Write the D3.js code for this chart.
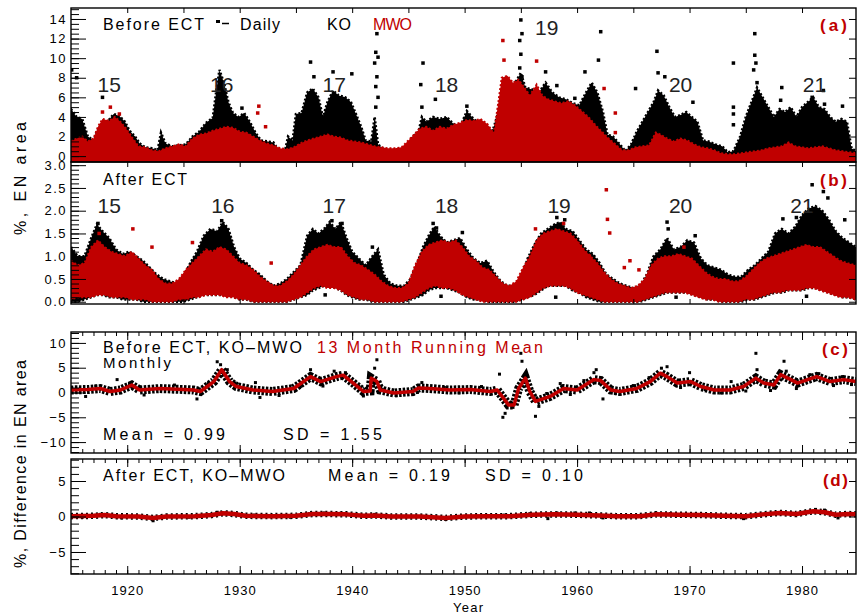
<!DOCTYPE html>
<html>
<head>
<meta charset="utf-8">
<script src="https://cdn.jsdelivr.net/npm/d3@7"></script>
<style>
  body { margin: 0; background: #fff; }
  svg { display: block; }
  text { font-family: "Liberation Sans", Arial, Helvetica, sans-serif; }
</style>
</head>
<body>
<svg id="chart" width="857" height="616"></svg>
<script>
// ---- data ----
// panel (a): daily EN area before ECT, upper envelope [year, value]
const koBefore = [
  [1915.0,4.8],[1915.5,4.0],[1916.0,3.8],[1916.5,2.0],[1917.0,1.6],[1917.3,2.5],[1917.7,3.3],[1918.3,3.6],
  [1918.8,4.3],[1919.3,4.1],[1919.8,3.5],[1920.2,2.6],[1920.7,2.0],[1921.1,1.3],[1921.6,0.9],[1922.2,0.8],
  [1922.7,0.6],[1923.0,2.4],[1923.4,1.3],[1924.0,1.0],[1924.6,1.1],[1925.2,1.2],[1925.8,2.0],[1926.4,2.5],
  [1927.0,3.4],[1927.6,3.9],[1927.9,6.5],[1928.2,8.8],[1928.6,7.5],[1929.0,5.5],[1929.4,4.4],[1929.9,4.0],
  [1930.4,4.4],[1930.9,3.5],[1931.4,2.4],[1931.9,1.6],[1932.5,1.5],[1933.0,1.4],[1933.5,0.5],[1934.0,0.4],
  [1934.3,2.0],[1934.7,1.6],[1935.0,4.3],[1935.5,4.4],[1936.0,6.5],[1936.5,6.9],[1937.0,6.0],[1937.4,4.0],
  [1937.8,5.5],[1938.3,6.7],[1938.8,6.2],[1939.4,6.0],[1939.9,5.5],[1940.3,4.4],[1940.8,3.0],[1941.2,1.6],
  [1941.7,1.5],[1942.0,4.0],[1942.3,1.2],[1942.8,0.7],[1943.5,0.6],[1944.2,0.7],[1944.8,0.8],[1945.4,2.0],
  [1945.9,2.5],[1946.2,4.0],[1946.6,3.5],[1947.2,4.0],[1947.8,3.8],[1948.4,4.0],[1949.0,3.3],[1949.6,3.0],
  [1950.2,4.6],[1950.8,3.8],[1951.4,3.2],[1952.0,3.0],[1952.5,2.6],[1953.0,4.5],[1953.5,5.5],[1954.0,6.5],
  [1954.5,7.5],[1955.0,8.5],[1955.4,7.0],[1956.0,6.8],[1956.6,6.5],[1957.2,7.5],[1957.8,6.5],[1958.4,6.0],
  [1959.0,5.8],[1959.6,5.4],[1960.2,5.2],[1960.8,6.5],[1961.3,7.5],[1961.8,6.5],[1962.3,4.5],[1962.7,2.2],
  [1963.2,2.0],[1963.8,1.2],[1964.3,0.5],[1964.8,1.2],[1965.3,2.5],[1965.8,3.5],[1966.3,4.5],[1966.8,5.5],
  [1967.2,6.7],[1967.7,6.2],[1968.2,5.0],[1968.7,4.0],[1969.2,4.2],[1969.7,4.5],[1970.2,4.0],[1970.7,3.5],
  [1971.2,1.6],[1971.7,1.5],[1972.3,1.2],[1972.9,1.0],[1973.4,0.4],[1973.9,0.5],[1974.5,2.0],[1975.0,4.0],
  [1975.5,5.5],[1976.0,7.0],[1976.5,6.0],[1977.0,5.0],[1977.5,4.0],[1978.0,4.8],[1978.5,4.5],[1979.0,5.0],
  [1979.5,4.0],[1980.0,5.0],[1980.5,5.5],[1981.0,6.0],[1981.5,5.0],[1982.0,4.8],[1982.5,4.0],[1983.0,3.5],
  [1983.5,3.8],[1984.0,3.5],[1984.4,0.8],[1984.8,0.5]
];
// [year, high]
const mwoBefore = [
  [1915.0,1.5],[1915.5,1.8],[1916.0,2.0],[1916.5,1.5],[1917.0,1.8],[1917.4,3.0],[1917.8,3.8],
  [1918.4,3.6],[1918.9,4.0],[1919.4,3.5],[1919.9,2.8],[1920.5,1.8],[1921.0,1.0],[1921.6,0.9],
  [1922.2,0.6],[1922.8,0.5],[1923.4,0.8],[1924.0,1.0],[1924.6,1.2],[1925.2,1.0],[1925.8,1.8],
  [1926.4,2.2],[1927.0,2.3],[1927.6,2.6],[1928.2,2.8],[1928.8,3.0],[1929.4,2.9],[1930.0,2.5],
  [1930.6,2.4],[1931.2,2.0],[1931.8,1.6],[1932.4,1.3],[1933.0,1.1],[1933.6,0.8],[1934.2,0.7],
  [1934.8,0.9],[1935.4,1.3],[1936.0,1.6],[1936.6,1.8],[1937.2,2.0],[1937.8,2.2],[1938.4,2.0],
  [1939.0,1.9],[1939.6,1.6],[1940.2,1.5],[1940.8,1.4],[1941.4,1.2],[1942.0,1.0],[1942.6,0.9],
  [1943.2,0.8],[1943.8,0.8],[1944.4,0.9],[1945.0,1.6],[1945.5,2.2],[1946.0,2.8],[1946.6,3.0],
  [1947.2,2.6],[1947.8,3.0],[1948.4,2.8],[1949.0,3.2],[1949.6,3.4],[1950.2,3.7],[1950.8,3.6],
  [1951.4,3.8],[1952.0,3.3],[1952.6,2.3],[1953.0,5.5],[1953.3,8.0],[1953.8,8.2],[1954.3,7.5],
  [1954.8,7.8],[1955.3,7.0],[1955.8,6.2],[1956.4,7.3],[1956.9,6.2],[1957.4,5.8],
  [1958.0,5.6],[1958.6,5.4],[1959.2,5.6],[1959.8,5.2],[1960.4,4.6],[1961.0,4.0],
  [1961.6,3.2],[1962.2,2.5],[1962.8,1.8],[1963.4,1.2],[1964.0,0.6],[1964.6,0.6],[1965.2,0.9],
  [1965.8,1.0],[1966.4,1.1],[1967.0,2.4],[1967.4,2.2],[1968.0,1.8],[1968.6,1.5],[1969.2,1.8],
  [1969.8,1.6],[1970.4,1.2],[1971.0,0.9],[1971.6,0.8],[1972.2,0.6],[1972.8,0.3],[1973.4,0.2],
  [1974.0,0.2],[1974.6,0.3],[1975.2,0.4],[1975.8,0.5],[1976.4,0.6],[1977.0,0.8],[1977.6,0.9],
  [1978.2,1.0],[1978.8,1.4],[1979.4,1.0],[1980.0,0.9],[1980.6,0.8],[1981.2,0.9],[1981.8,1.0],
  [1982.4,0.8],[1983.0,0.6],[1983.6,0.5],[1984.2,0.4],[1984.8,0.3]
];
const koBeforeDots = [
  [1915.06,8.8],[1915.5,8.0],[1917.8,6.0],[1930.2,4.9],[1936.3,9.6],[1936.6,8.1],[1938.3,8.6],[1939.97,8.4],
  [1942.2,12.5],[1942.1,10.6],[1942.3,10.1],[1942.0,9.5],[1942.2,8.1],[1942.1,7.1],[1942.3,6.0],[1942.1,5.0],
  [1946.3,9.5],[1946.1,7.3],[1946.2,5.0],[1947.4,5.8],[1950.2,5.1],
  [1955.0,13.9],[1955.1,12.5],[1954.9,11.8],[1955.0,10.4],[1954.9,9.0],[1955.1,8.1],
  [1957.2,8.6],[1958.2,7.2],[1959.8,5.9],[1960.7,8.6],[1961.9,9.8],[1962.1,12.7],
  [1965.2,6.9],[1967.1,10.7],[1967.2,8.5],[1967.8,8.1],[1970.3,5.5],
  [1973.9,9.5],[1973.9,5.0],[1973.9,4.3],[1973.9,3.2],
  [1975.8,12.5],[1975.8,10.3],[1975.9,9.5],[1975.7,8.8],[1976.0,7.5],
  [1978.2,7.0],[1978.1,5.7],[1980.9,6.0],[1981.9,6.7],[1982.0,5.3],[1983.6,5.1]
];
const mwoBeforeDots = [
  [1917.8,4.5],[1918.5,5.0],[1919.3,4.3],[1931.7,5.1],[1931.6,4.4],[1932.3,3.0],
  [1953.4,11.8],[1953.5,9.8],[1956.4,9.7],[1962.4,6.9],[1963.4,4.4],[1963.4,2.4]
];

// panel (b): daily EN area after ECT, [year, low, high]
const koAfter = [
  [1915.0,0,1.2],[1915.6,0,1.0],[1916.2,0.05,1.0],[1916.8,0.1,1.4],[1917.3,0.15,1.7],[1917.8,0.15,1.55],[1918.4,0.1,1.4],
  [1919.0,0.1,1.15],[1919.6,0.05,1.05],[1920.2,0.05,1.1],[1920.8,0.05,1.0],[1921.4,0,0.9],[1922.0,0,0.75],[1922.6,0,0.6],
  [1923.2,0,0.5],[1923.8,0,0.45],[1924.4,0,0.4],[1925.0,0,0.55],[1925.6,0.05,0.85],[1926.2,0.1,1.1],[1926.8,0.15,1.45],
  [1927.4,0.15,1.6],[1928.0,0.15,1.55],[1928.5,0.15,1.75],[1929.0,0.15,1.6],[1929.5,0.1,1.2],[1930.0,0.05,0.95],
  [1930.6,0.05,0.85],[1931.2,0,0.7],[1931.8,0,0.6],[1932.4,0,0.45],[1933.0,0,0.35],[1933.6,0,0.4],[1934.2,0,0.5],
  [1934.8,0.05,0.65],[1935.4,0.1,0.8],[1936.0,0.15,1.45],[1936.5,0.25,1.6],[1937.0,0.3,1.5],[1937.5,0.35,1.6],
  [1938.0,0.35,1.75],[1938.5,0.3,1.6],[1939.0,0.25,1.75],[1939.5,0.15,1.4],[1940.0,0.1,1.1],[1940.6,0.05,0.95],
  [1941.2,0.05,0.8],[1941.8,0,1.0],[1942.3,0,1.15],[1942.8,0,0.6],[1943.4,0,0.4],[1944.0,0,0.35],[1944.6,0,0.35],
  [1945.2,0.05,0.5],[1945.8,0.1,0.85],[1946.3,0.15,1.2],[1946.8,0.25,1.45],[1947.3,0.3,1.65],[1947.8,0.3,1.45],
  [1948.4,0.3,1.3],[1949.0,0.25,1.35],[1949.6,0.2,1.4],[1950.2,0.1,1.15],[1950.8,0.05,0.95],[1951.4,0.05,0.85],
  [1952.0,0,0.9],[1952.6,0,0.65],[1953.2,0,0.45],[1953.8,0,0.35],[1954.4,0,0.35],[1955.0,0.05,0.5],[1955.6,0.1,0.95],
  [1956.2,0.15,1.25],[1956.8,0.25,1.5],[1957.4,0.35,1.6],[1958.0,0.35,1.7],[1958.5,0.35,1.75],[1959.0,0.35,1.6],
  [1959.6,0.25,1.55],[1960.2,0.2,1.35],[1960.8,0.1,1.15],[1961.4,0.05,1.05],[1962.0,0,0.85],[1962.6,0,0.6],
  [1963.2,0,0.5],[1963.8,0,0.4],[1964.4,0,0.35],[1965.0,0,0.3],[1965.6,0,0.35],[1966.2,0.05,0.6],[1966.8,0.1,1.0],
  [1967.4,0.15,1.15],[1968.0,0.2,1.4],[1968.6,0.2,1.15],[1969.2,0.2,1.2],[1969.8,0.2,1.35],[1970.4,0.15,1.3],
  [1971.0,0.1,0.95],[1971.6,0.05,0.8],[1972.2,0.05,0.75],[1972.8,0,0.7],[1973.4,0,0.6],[1974.0,0,0.55],[1974.6,0,0.55],
  [1975.2,0.05,0.7],[1975.8,0.05,0.8],[1976.4,0.1,0.95],[1977.0,0.15,1.1],[1977.6,0.2,1.5],[1978.2,0.2,1.6],
  [1978.8,0.25,1.5],[1979.4,0.25,1.65],[1980.0,0.25,1.9],[1980.6,0.3,2.05],[1981.2,0.3,2.1],[1981.8,0.25,2.0],
  [1982.4,0.2,1.8],[1983.0,0.15,1.55],[1983.6,0.1,1.4],[1984.2,0.1,1.3],[1984.8,0.05,1.2]
];
const mwoAfter = [
  [1915.0,0.05,0.9],[1915.6,0.1,0.8],[1916.2,0.1,0.85],[1916.8,0.1,1.2],[1917.4,0.15,1.35],[1918.0,0.15,1.2],
  [1918.6,0.1,1.1],[1919.2,0.1,1.05],[1919.8,0.1,1.0],[1920.4,0.05,1.1],[1921.0,0.05,0.95],[1921.6,0.05,0.8],
  [1922.2,0,0.7],[1922.8,0,0.5],[1923.4,0,0.4],[1924.0,0,0.4],[1924.6,0.05,0.5],[1925.2,0.05,0.7],
  [1925.8,0.1,0.85],[1926.4,0.1,1.0],[1927.0,0.15,1.15],[1927.6,0.15,1.1],[1928.2,0.15,1.2],[1928.8,0.1,1.15],
  [1929.4,0.1,1.0],[1930.0,0.05,0.85],[1930.6,0.05,0.8],[1931.2,0,0.7],[1931.8,0,0.55],[1932.4,0,0.45],
  [1933.0,0,0.35],[1933.6,0,0.35],[1934.2,0,0.45],[1934.8,0.05,0.6],[1935.4,0.1,0.8],[1936.0,0.2,1.0],
  [1936.6,0.3,1.15],[1937.2,0.35,1.2],[1937.8,0.3,1.25],[1938.4,0.3,1.2],[1939.0,0.25,1.2],[1939.6,0.15,1.0],
  [1940.2,0.1,0.85],[1940.8,0.05,0.8],[1941.4,0.05,0.7],[1942.0,0,0.6],[1942.6,0,0.45],[1943.2,0,0.35],
  [1943.8,0,0.3],[1944.4,0,0.3],[1945.0,0.05,0.4],[1945.6,0.1,0.8],[1946.2,0.2,1.1],[1946.8,0.3,1.25],
  [1947.4,0.35,1.3],[1948.0,0.3,1.35],[1948.6,0.3,1.3],[1949.2,0.25,1.35],[1949.8,0.15,1.2],[1950.4,0.1,1.0],
  [1951.0,0.05,0.9],[1951.6,0,0.75],[1952.2,0,0.7],[1952.8,0,0.55],[1953.4,0,0.4],[1954.0,0,0.35],
  [1954.6,0,0.45],[1955.2,0.05,0.75],[1955.8,0.1,1.0],[1956.4,0.2,1.35],[1957.0,0.3,1.5],[1957.6,0.35,1.55],
  [1958.2,0.35,1.6],[1958.8,0.35,1.55],[1959.4,0.3,1.5],[1960.0,0.2,1.35],[1960.6,0.15,1.15],[1961.2,0.1,1.0],
  [1961.8,0.05,0.85],[1962.4,0,0.65],[1963.0,0,0.5],[1963.6,0,0.4],[1964.2,0,0.35],[1964.8,0,0.3],
  [1965.4,0,0.35],[1966.0,0.05,0.5],[1966.6,0.1,0.8],[1967.2,0.15,0.95],[1967.8,0.2,1.0],[1968.4,0.2,1.0],
  [1969.0,0.2,1.05],[1969.6,0.2,1.0],[1970.2,0.15,0.95],[1970.8,0.1,0.8],[1971.4,0.05,0.65],[1972.0,0.05,0.55],
  [1972.6,0,0.5],[1973.2,0,0.5],[1973.8,0,0.45],[1974.4,0,0.45],[1975.0,0.05,0.55],[1975.6,0.05,0.7],
  [1976.2,0.1,0.85],[1976.8,0.15,0.95],[1977.4,0.2,1.0],[1978.0,0.2,1.05],[1978.6,0.25,1.1],[1979.2,0.25,1.15],
  [1979.8,0.25,1.2],[1980.4,0.3,1.25],[1981.0,0.3,1.2],[1981.6,0.25,1.2],[1982.2,0.2,1.1],[1982.8,0.15,1.0],
  [1983.4,0.1,0.9],[1984.0,0.1,0.85],[1984.8,0.05,0.8]
];
const koAfterDots = [
  [1917.4,1.72],[1928.4,1.78],[1938.2,1.78],[1939.1,1.72],[1941.8,1.2],[1947.2,1.72],[1947.5,1.62],
  [1949.8,1.52],[1958.2,1.85],[1958.9,1.8],[1968.0,1.75],[1968.1,1.6],[1970.5,1.45],[1978.3,1.82],
  [1979.5,1.85],[1980.9,2.57],[1981.9,2.42],[1982.3,2.28],[1983.8,1.8],
  [1937.6,0.15],[1947.9,0.12],[1958.1,0.1],[1968.8,0.1],[1980.4,0.12]
];
const mwoAfterDots = [
  [1917.5,1.5],[1920.5,1.6],[1922.2,1.2],[1925.8,1.3],[1932.8,0.85],[1956.3,1.6],[1958.8,1.72],
  [1962.6,2.46],[1962.7,1.81],[1962.9,1.51],[1964.7,0.9],[1964.2,0.75],[1965.5,0.7],[1969.5,1.2],[1961.1,1.0]
];

// panel (c): KO-MWO before ECT, 13 month running mean and scattered monthly values
const diffBeforeMean = [
  [1915.0,0.5],[1915.4,0.55],[1916.5,0.6],[1917.6,0.8],[1918.5,0.2],[1919.4,0.5],[1920.4,1.5],[1921.1,0.5],
  [1922.9,0.8],[1925.0,0.6],[1925.9,0.5],[1926.5,0.2],[1927.7,2.2],[1928.4,4.6],[1929.1,2.2],[1929.7,1.2],
  [1931.2,0.5],[1932.9,0.2],[1934.8,0.8],[1936.3,3.2],[1937.2,2.2],[1938.6,3.2],[1939.2,3.5],[1940.1,1.9],
  [1941.0,0.2],[1941.6,0.3],[1941.7,2.9],[1942.2,2.2],[1942.5,0.5],[1943.7,-0.1],[1945.4,0.2],[1945.9,0.9],
  [1946.9,0.8],[1948.7,0.5],[1950.5,0.6],[1952.3,0.2],[1952.9,0.5],[1953.9,-2.5],[1954.4,-2.5],[1954.8,0.8],
  [1955.4,2.9],[1955.8,0.2],[1956.3,-1.8],[1957.6,-0.8],[1958.8,0.8],[1960.0,0.5],[1961.5,2.6],[1962.1,2.4],
  [1963.0,0.5],[1963.8,0.2],[1965.3,0.8],[1966.5,2.2],[1967.4,3.9],[1968.0,3.2],[1968.9,1.9],[1970.1,2.2],
  [1971.0,1.2],[1972.2,0.5],[1973.6,0.5],[1974.8,1.2],[1975.9,2.9],[1976.6,1.9],[1977.5,1.5],[1978.1,3.6],
  [1979.0,2.6],[1979.6,1.9],[1980.5,2.6],[1981.3,3.2],[1982.5,2.2],[1983.7,2.6],[1984.8,2.2]
];
const diffBeforeDots = [
  [1916.3,-0.8],[1917.2,1.3],[1919.1,2.6],[1920.2,1.8],[1921.5,-0.5],[1924.2,1.5],[1926.2,-1.3],[1927.2,1.8],
  [1928.0,6.2],[1928.3,5.6],[1928.9,4.6],[1929.6,1.9],[1931.4,2.0],[1931.8,-1.0],[1933.5,-0.6],[1935.4,1.2],
  [1936.3,4.6],[1937.4,1.3],[1938.4,4.3],[1939.4,4.0],[1940.6,1.2],[1941.0,-0.7],[1942.2,6.6],[1942.0,4.9],
  [1943.9,-0.6],[1945.8,0.0],[1946.2,2.0],[1948.2,1.0],[1949.5,-0.1],[1951.5,1.2],[1953.1,3.7],[1953.4,-5.0],
  [1953.6,-4.2],[1954.3,-3.0],[1955.0,7.9],[1955.1,6.3],[1955.6,3.3],[1956.3,-4.8],[1956.6,-2.8],[1957.3,-0.2],
  [1958.5,1.8],[1959.4,-0.4],[1960.6,2.4],[1961.7,4.6],[1961.5,4.0],[1962.3,-1.3],[1963.4,-0.2],[1965.0,1.4],
  [1966.4,3.0],[1967.5,4.9],[1968.0,5.2],[1969.2,1.0],[1970.0,4.0],[1971.4,0.6],[1972.8,-0.1],[1973.7,2.2],
  [1975.0,0.3],[1975.9,7.9],[1976.0,4.6],[1977.2,0.4],[1978.4,6.3],[1978.6,4.3],[1979.5,0.8],[1980.7,3.6],
  [1981.5,3.8],[1982.8,1.4],[1983.6,3.2],[1984.4,1.6]
];

// panel (d): KO-MWO after ECT
const diffAfterMean = [
  [1915.0,0.05],[1917.0,0.1],[1918.0,0.2],[1919.0,0.05],[1921.0,0.0],[1922.3,-0.2],[1923.5,0.0],[1926.0,0.05],
  [1927.5,0.2],[1928.5,0.45],[1929.5,0.35],[1930.5,0.1],[1933.0,0.05],[1935.0,0.1],[1936.5,0.35],[1938.0,0.35],
  [1939.5,0.3],[1941.0,0.1],[1942.0,0.15],[1943.5,0.0],[1946.0,0.0],[1948.3,-0.2],[1950.0,0.0],[1952.0,0.05],
  [1954.0,0.05],[1956.0,0.25],[1958.0,0.3],[1960.0,0.25],[1962.0,0.15],[1963.5,0.05],[1965.5,0.05],[1967.0,0.3],
  [1969.0,0.25],[1971.0,0.2],[1973.0,0.1],[1975.0,0.05],[1976.5,0.3],[1978.0,0.5],[1979.5,0.35],[1981.0,0.75],
  [1982.0,0.6],[1983.0,0.25],[1984.0,0.35],[1984.8,0.3]
];
const diffAfterDots = [
  [1916.0,-0.1],[1917.6,0.3],[1919.5,-0.2],[1922.3,-0.6],[1925.5,-0.1],[1928.0,0.6],[1928.8,0.5],[1931.3,0.2],
  [1934.5,-0.1],[1936.2,0.4],[1937.5,0.5],[1939.0,0.45],[1942.0,0.3],[1948.3,-0.4],[1953.5,0.2],[1955.8,0.4],
  [1957.4,-0.3],[1958.2,0.5],[1959.8,0.5],[1961.1,0.5],[1962.3,-0.2],[1967.0,0.5],[1968.3,0.4],[1970.5,0.3],
  [1974.8,-0.3],[1976.3,0.2],[1978.5,0.5],[1980.2,0.6],[1981.2,1.0],[1982.0,0.9],[1983.2,-0.2]
];

// solar cycle numbers and where they are written
const cycleNames = ["15", "16", "17", "18", "19", "20", "21"];
const cycleYearsA = [1918.4, 1928.4, 1938.4, 1948.4, 1957.3, 1969.2, 1981.1];
const cycleValsA = [6.5, 6.5, 6.5, 6.5, 12.4, 6.5, 6.5];
const cycleYearsB = [1918.4, 1928.5, 1938.4, 1948.4, 1958.4, 1969.2, 1980.0];
const cycleValsB = [1.94, 1.94, 1.94, 1.94, 1.94, 1.94, 1.94];

const yearMajorAB = [1920, 1925, 1930, 1935, 1940, 1945, 1950, 1955, 1960, 1965, 1970, 1975, 1980];
const yearMajorCD = [1920, 1930, 1940, 1950, 1960, 1970, 1980];

// ---- drawing ----
const red = "#c00000";
const svg = d3.select("#chart");
const x = d3.scaleLinear().domain([1915, 1984.8]).range([71, 856]);
const [xl, xr] = x.range();

const ya = d3.scaleLinear().domain([-0.6, 15.12]).range([162, 8]);
const yb = d3.scaleLinear().domain([-0.05, 3.07]).range([304, 162]);
const yc = d3.scaleLinear().domain([-12.2, 12.2]).range([453, 332]);
const yd = d3.scaleLinear().domain([-8.1, 8.1]).range([574, 459]);

function clip(id, y) {
  svg.append("clipPath").attr("id", id).append("rect")
    .attr("x", xl).attr("y", y.range()[1])
    .attr("width", xr - xl).attr("height", y.range()[0] - y.range()[1]);
  return svg.append("g").attr("clip-path", `url(#${id})`);
}

function styleAxis(g, size, spacing) {
  g.select(".domain").remove();
  g.selectAll("line").attr("stroke", "#000").attr("stroke-width", 1);
  g.selectAll("text").attr("fill", "#000").style("font-size", size + "px")
    .style("font-family", '"Liberation Sans", Arial, sans-serif')
    .style("letter-spacing", spacing + "px");
}

function yAxes(y, major, minor, fmt) {
  const gMinor = svg.append("g").attr("transform", `translate(${xl},0)`)
    .call(d3.axisLeft(y).tickValues(minor).tickSizeInner(-8).tickSizeOuter(0).tickFormat(""));
  styleAxis(gMinor, 13, 1);
  const gMajor = svg.append("g").attr("transform", `translate(${xl},0)`)
    .call(d3.axisLeft(y).tickValues(major).tickSizeInner(-15).tickSizeOuter(0).tickPadding(4).tickFormat(fmt));
  styleAxis(gMajor, 13, 1.5);
  const gRight = svg.append("g").attr("transform", `translate(${xr},0)`)
    .call(d3.axisRight(y).tickValues(major).tickSizeInner(-7).tickSizeOuter(0).tickFormat(""));
  styleAxis(gRight, 13, 1);
}

function xTicks(y, values, len, top, bottom) {
  const [b, t] = y.range();
  if (top) {
    const g = svg.append("g").attr("transform", `translate(0,${t})`)
      .call(d3.axisTop(x).tickValues(values).tickSizeInner(-len).tickSizeOuter(0).tickFormat(""));
    styleAxis(g, 13, 1);
  }
  if (bottom) {
    const g = svg.append("g").attr("transform", `translate(0,${b})`)
      .call(d3.axisBottom(x).tickValues(values).tickSizeInner(-len).tickSizeOuter(0).tickFormat(""));
    styleAxis(g, 13, 1);
  }
}

function frame(y) {
  svg.append("rect").attr("x", xl).attr("y", y.range()[1])
    .attr("width", xr - xl).attr("height", y.range()[0] - y.range()[1])
    .attr("fill", "none").attr("stroke", "#000").attr("stroke-width", 1.4);
}

function dots(g, data, y, color, size) {
  g.selectAll(null).data(data).join("rect")
    .attr("x", d => x(d[0]) - size / 2).attr("y", d => y(d[1]) - size / 2)
    .attr("width", size).attr("height", size).attr("fill", color);
}

function label(txt, xp, yp, opts = {}) {
  const t = svg.append("text").attr("x", xp).attr("y", yp)
    .attr("fill", opts.color || "#000")
    .style("font-size", (opts.size || 16) + "px")
    .style("font-weight", opts.bold ? "bold" : "normal")
    .attr("text-anchor", opts.anchor || "start")
    .text(txt);
  if (opts.len) t.attr("textLength", opts.len).attr("lengthAdjust", "spacing");
  return t;
}

// panel (a)
const ga = clip("clipA", ya);
const baseA = ya.range()[0];
ga.append("path").datum(koBefore)
  .attr("d", d3.area().x(d => x(d[0])).y0(baseA).y1(d => ya(d[1])))
  .attr("fill", "#000").attr("stroke", "#000").attr("stroke-width", 2.5).attr("stroke-dasharray", "2,2");
ga.append("path").datum(mwoBefore)
  .attr("d", d3.area().x(d => x(d[0])).y0(baseA).y1(d => ya(d[1])))
  .attr("fill", red).attr("stroke", red).attr("stroke-width", 2).attr("stroke-dasharray", "2,2");
dots(ga, koBeforeDots, ya, "#000", 3.5);
dots(ga, mwoBeforeDots, ya, red, 3.5);

// panel (b)
const gb = clip("clipB", yb);
gb.append("path").datum(koAfter)
  .attr("d", d3.area().x(d => x(d[0])).y0(d => yb(d[1])).y1(d => yb(d[2])))
  .attr("fill", "#000").attr("stroke", "#000").attr("stroke-width", 2.5).attr("stroke-dasharray", "2,2");
gb.append("path").datum(mwoAfter)
  .attr("d", d3.area().x(d => x(d[0])).y0(d => yb(d[1])).y1(d => yb(d[2])))
  .attr("fill", red).attr("stroke", red).attr("stroke-width", 2).attr("stroke-dasharray", "2,2");
dots(gb, koAfterDots, yb, "#000", 3.5);
dots(gb, mwoAfterDots, yb, red, 3.5);

// panel (c): monthly scatter shown as a speckled band under the running mean
const gc = clip("clipC", yc);
const lineC = d3.line().x(d => x(d[0])).y(d => yc(d[1]));
gc.append("path").datum(diffBeforeMean).attr("d", lineC)
  .attr("fill", "none").attr("stroke", "#000").attr("stroke-width", 9).attr("stroke-dasharray", "2.5,1.5");
dots(gc, diffBeforeDots, yc, "#000", 3);
gc.append("path").datum(diffBeforeMean).attr("d", lineC)
  .attr("fill", "none").attr("stroke", red).attr("stroke-width", 3.5).attr("stroke-linejoin", "round");

// panel (d)
const gd = clip("clipD", yd);
const lineD = d3.line().x(d => x(d[0])).y(d => yd(d[1]));
gd.append("path").datum(diffAfterMean).attr("d", lineD)
  .attr("fill", "none").attr("stroke", "#000").attr("stroke-width", 6.5).attr("stroke-dasharray", "2,3");
dots(gd, diffAfterDots, yd, "#000", 3);
gd.append("path").datum(diffAfterMean).attr("d", lineD)
  .attr("fill", "none").attr("stroke", red).attr("stroke-width", 4.5).attr("stroke-linejoin", "round");

// axes and frames
yAxes(ya, d3.range(0, 15, 2), d3.range(0, 15.1, 0.5), d3.format("d"));
yAxes(yb, d3.range(0, 3.01, 0.5), d3.range(0, 3.01, 0.1), d3.format(".1f"));
yAxes(yc, [-10, -5, 0, 5, 10], d3.range(-12, 13, 1), d3.format("d"));
yAxes(yd, [-5, 0, 5], d3.range(-8, 9, 1), d3.format("d"));

xTicks(ya, yearMajorAB, 5, true, false);
xTicks(yb, yearMajorAB, 5, true, true);
xTicks(yc, d3.range(1916, 1985, 1), 4, true, true);
xTicks(yc, yearMajorCD, 8, true, true);
xTicks(yd, d3.range(1916, 1985, 1), 4, true, true);
xTicks(yd, yearMajorCD, 8, true, true);

const gYear = svg.append("g").attr("transform", `translate(0,${yd.range()[0]})`)
  .call(d3.axisBottom(x).tickValues(yearMajorCD).tickSize(0).tickPadding(12).tickFormat(d3.format("d")));
styleAxis(gYear, 13, 1);

[ya, yb, yc, yd].forEach(frame);

// cycle numbers
cycleNames.forEach((c, i) => {
  label(c, x(cycleYearsA[i]), ya(cycleValsA[i]), { size: 21, anchor: "middle", color: "#222" });
  label(c, x(cycleYearsB[i]), yb(cycleValsB[i]), { size: 21, anchor: "middle", color: "#222" });
});

// texts
label("Before ECT", 103, 30, { len: 101 });
svg.append("rect").attr("x", 216).attr("y", 20).attr("width", 4).attr("height", 3).attr("fill", "#000");
svg.append("line").attr("x1", 222).attr("x2", 229).attr("y1", 23.5).attr("y2", 23.5)
  .attr("stroke", "#000").attr("stroke-width", 1.5);
label("Daily", 240, 30, { len: 40 });
label("KO", 327, 30, { len: 24 });
label("MWO", 373, 30, { len: 39, color: red });
label("(a)", 820, 31, { len: 27, color: red, bold: true, size: 17 });

label("After ECT", 103, 185, { len: 84 });
label("(b)", 820, 186, { len: 27, color: red, bold: true, size: 17 });

label("Before ECT, KO\u2013MWO", 103, 353, { len: 199 });
label("13 Month Running Mean", 317, 353, { len: 226, color: red });
label("Monthly", 103, 368, { len: 68, size: 15 });
label("Mean = 0.99", 103, 440, { len: 122 });
label("SD = 1.55", 283, 440, { len: 99 });
label("(c)", 822, 355, { len: 26, color: red, bold: true, size: 17 });

label("After ECT, KO\u2013MWO", 103, 481, { len: 182 });
label("Mean = 0.19", 328, 481, { len: 122 });
label("SD = 0.10", 485, 481, { len: 98 });
label("(d)", 823, 486, { len: 25, color: red, bold: true, size: 17 });

label("Year", 468, 612, { size: 13, anchor: "middle", len: 30 });

svg.append("text").attr("transform", "translate(26,178.5) rotate(-90)")
  .attr("text-anchor", "middle").style("font-size", "16px")
  .attr("textLength", 113).attr("lengthAdjust", "spacing").text("%, EN area");
svg.append("text").attr("transform", "translate(26,464) rotate(-90)")
  .attr("text-anchor", "middle").style("font-size", "16px")
  .attr("textLength", 208).attr("lengthAdjust", "spacing").text("%, Difference in EN area");
</script>
</body>
</html>
